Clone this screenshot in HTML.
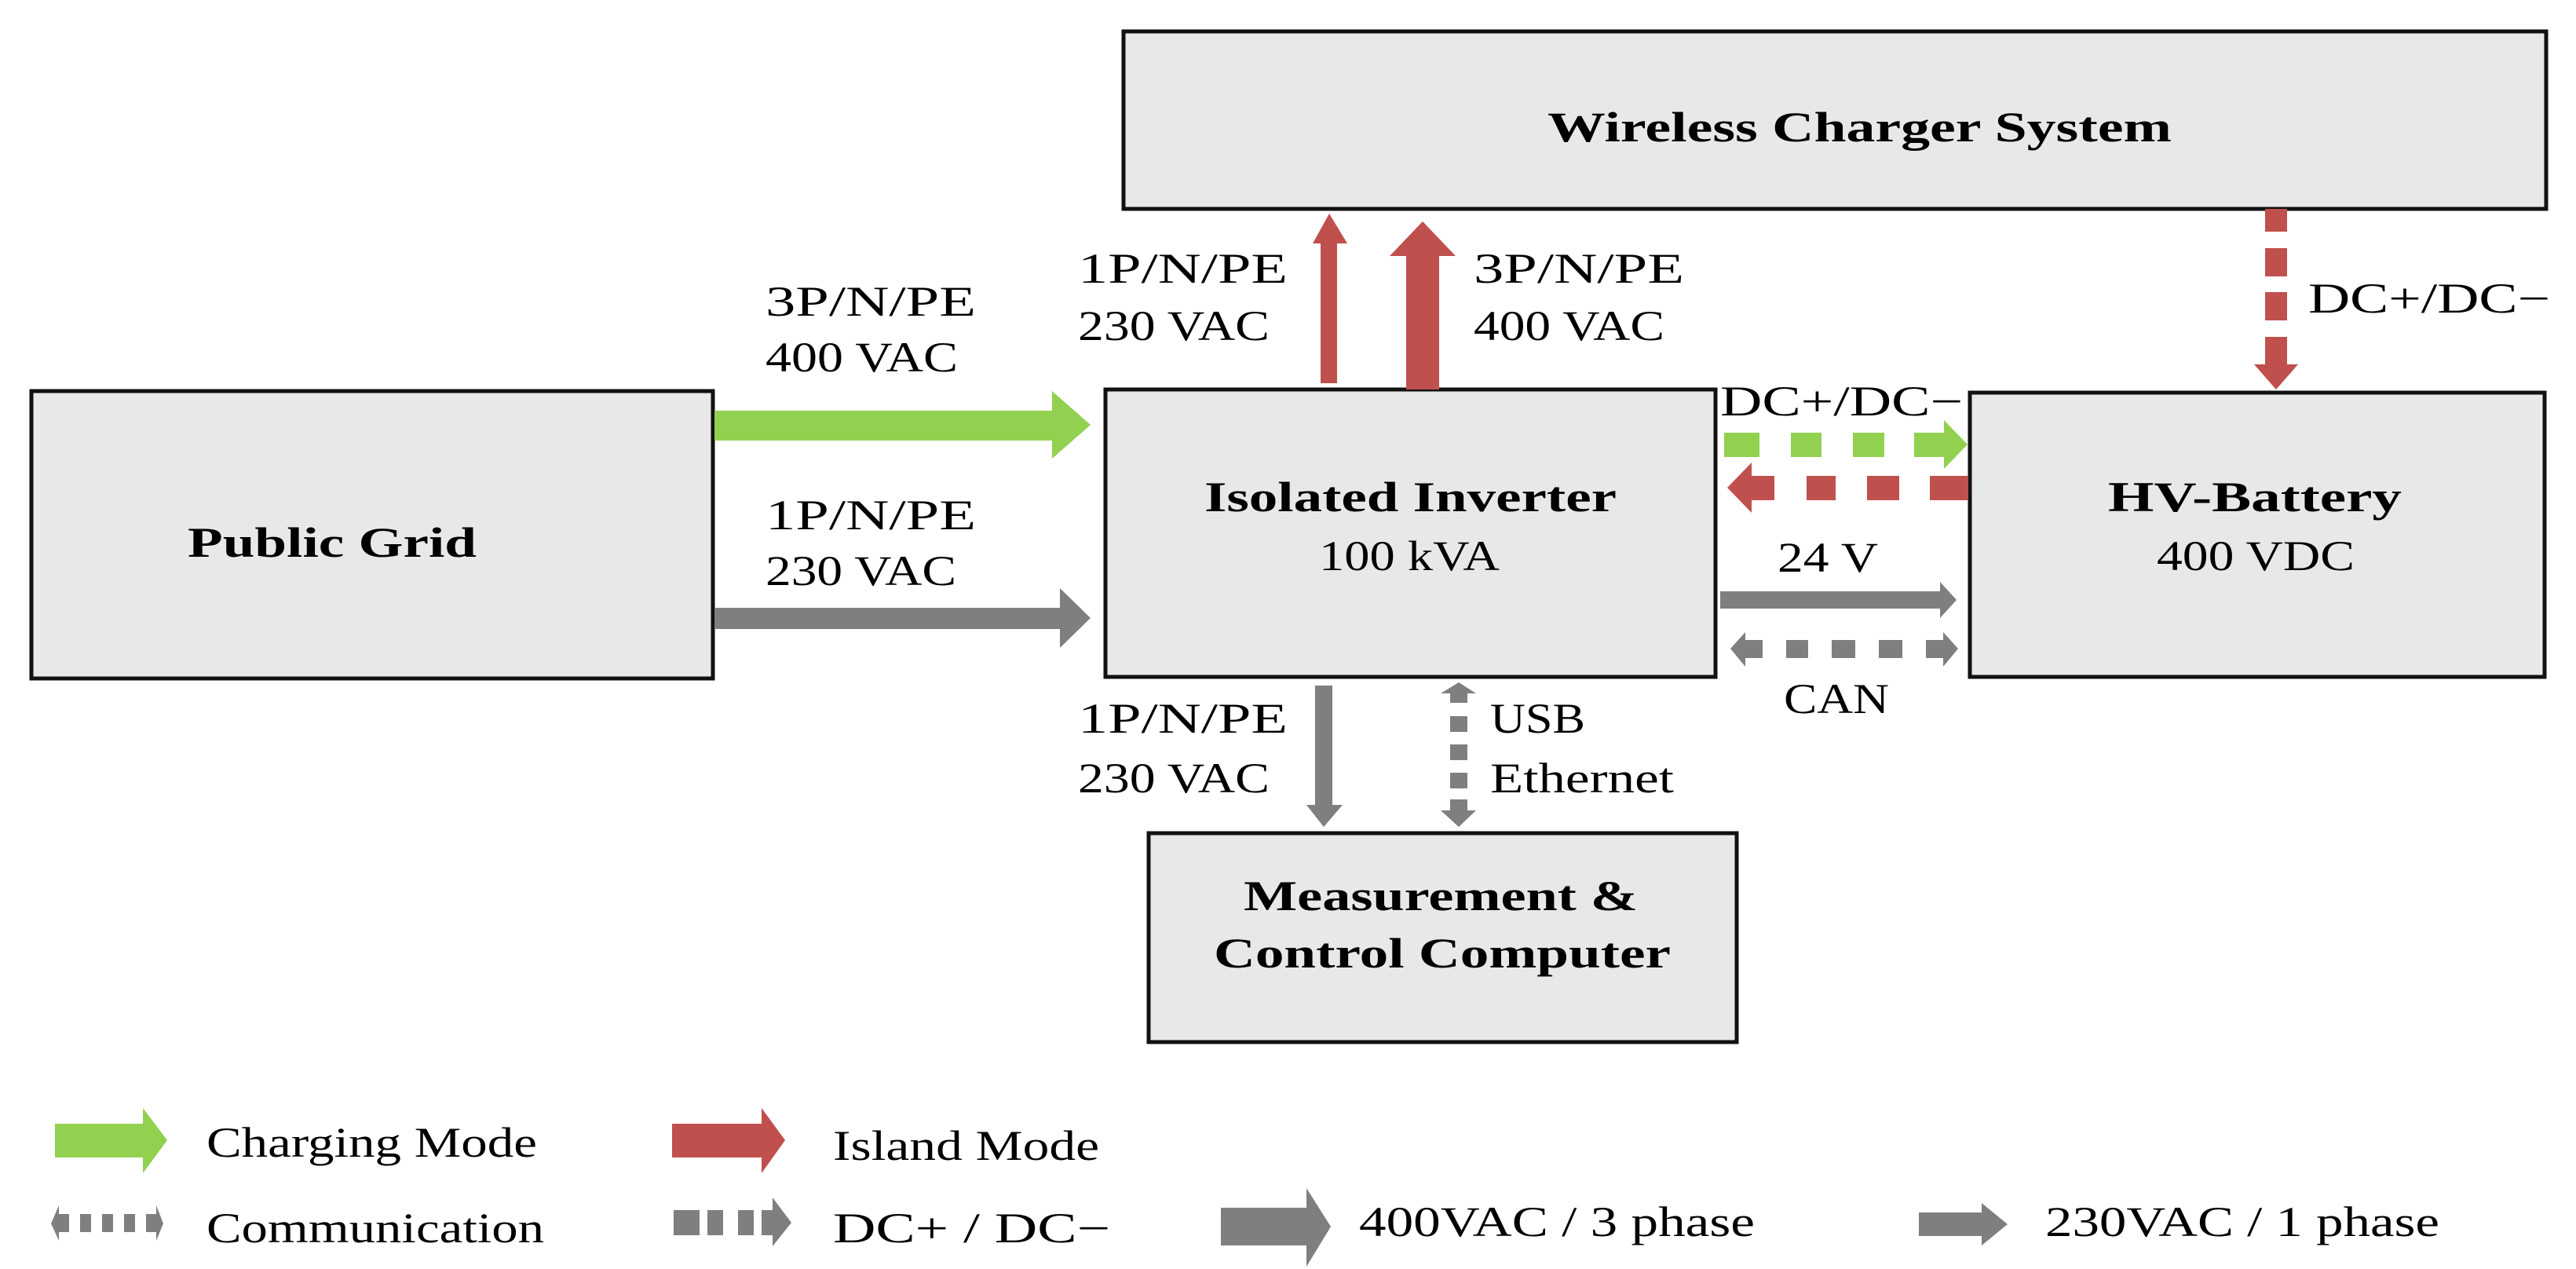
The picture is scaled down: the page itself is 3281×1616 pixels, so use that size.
<!DOCTYPE html>
<html><head><meta charset="utf-8"><style>
html,body{margin:0;padding:0;background:#fff;}
svg{display:block;}
text{font-family:"Liberation Serif",serif;fill:#000;}
.b{font-weight:bold;}
</style></head><body>
<svg width="3281" height="1616" viewBox="0 0 3281 1616" xmlns="http://www.w3.org/2000/svg">
<g fill="#e8e8e8" stroke="#111" stroke-width="5">
<rect x="1431" y="40" width="1812" height="226"/>
<rect x="40" y="498" width="868" height="366"/>
<rect x="1408" y="496" width="777" height="366"/>
<rect x="2509" y="500" width="732" height="362"/>
<rect x="1463" y="1061" width="749" height="266"/>
</g>
<!-- green grid -> inverter -->
<polygon fill="#92d050" points="910,523 1340,523 1340,498 1389,541 1340,584 1340,561 910,561"/>
<!-- gray 230 -->
<polygon fill="#7f7f7f" points="910,774 1350,774 1350,749 1389,787 1350,825 1350,801 910,801"/>
<!-- red thin up -->
<polygon fill="#c0504d" points="1682,488 1682,310 1672,310 1693,272 1716,310 1703,310 1703,488"/>
<!-- red thick up -->
<polygon fill="#c0504d" points="1791,496 1791,326 1770,326 1812,282 1854,326 1833,326 1833,496"/>
<!-- red dashed down -->
<g fill="#c0504d">
<rect x="2885" y="266" width="28" height="29"/>
<rect x="2885" y="316" width="28" height="36"/>
<rect x="2885" y="372" width="28" height="36"/>
<polygon points="2885,429 2913,429 2913,464 2927,464 2899,496 2871,464 2885,464"/>
</g>
<!-- green dashed right -->
<g fill="#92d050">
<rect x="2196" y="551" width="45" height="31"/>
<rect x="2281" y="551" width="39" height="31"/>
<rect x="2360" y="551" width="40" height="31"/>
<polygon points="2438,551 2476,551 2476,535 2506,566 2476,597 2476,582 2438,582"/>
</g>
<!-- red dashed left -->
<g fill="#c0504d">
<polygon points="2260,606 2231,606 2231,589 2200,621 2231,653 2231,637 2260,637"/>
<rect x="2301" y="606" width="37" height="31"/>
<rect x="2378" y="606" width="41" height="31"/>
<rect x="2458" y="606" width="49" height="31"/>
</g>
<!-- gray 24V -->
<polygon fill="#7f7f7f" points="2191,753 2471,753 2471,741 2492,764 2471,787 2471,775 2191,775"/>
<!-- CAN -->
<g fill="#7f7f7f">
<polygon points="2245,815 2223,815 2223,805 2204,826 2223,849 2223,838 2245,838"/>
<rect x="2275" y="815" width="28" height="23"/>
<rect x="2333" y="815" width="30" height="23"/>
<rect x="2393" y="815" width="30" height="23"/>
<polygon points="2453,815 2475,815 2475,805 2494,826 2475,849 2475,838 2453,838"/>
</g>
<!-- gray down -->
<polygon fill="#7f7f7f" points="1675,873 1697,873 1697,1025 1710,1025 1686,1053 1664,1025 1675,1025"/>
<!-- USB dashed vertical -->
<g fill="#7f7f7f">
<polygon points="1847,895 1847,883 1835,883 1858,869 1880,883 1869,883 1869,895"/>
<rect x="1847" y="912" width="22" height="20"/>
<rect x="1847" y="948" width="22" height="20"/>
<rect x="1847" y="984" width="22" height="20"/>
<polygon points="1847,1018 1869,1018 1869,1032 1880,1032 1858,1053 1835,1032 1847,1032"/>
</g>
<!-- legend -->
<polygon fill="#92d050" points="70,1431 182,1431 182,1411 213,1452 182,1494 182,1474 70,1474"/>
<polygon fill="#c0504d" points="856,1431 970,1431 970,1411 1000,1452 970,1494 970,1474 856,1474"/>
<g fill="#7f7f7f">
<polygon points="88,1546 75,1546 75,1535 65,1558 75,1580 75,1569 88,1569"/>
<rect x="102" y="1546" width="14" height="23"/>
<rect x="130" y="1546" width="14" height="23"/>
<rect x="158" y="1546" width="14" height="23"/>
<polygon points="186,1546 199,1546 199,1535 208,1558 199,1580 199,1569 186,1569"/>
<rect x="858" y="1541" width="33" height="32"/>
<rect x="901" y="1541" width="20" height="32"/>
<rect x="940" y="1541" width="20" height="32"/>
<polygon points="970,1541 984,1541 984,1525 1008,1557 984,1587 984,1573 970,1573"/>
<polygon points="1555,1538 1664,1538 1664,1513 1695,1562 1664,1613 1664,1586 1555,1586"/>
<polygon points="2444,1544 2524,1544 2524,1532 2557,1559 2524,1586 2524,1574 2444,1574"/>
</g>
<g font-size="54">
<text class="b" x="1971" y="180" textLength="795" lengthAdjust="spacingAndGlyphs">Wireless Charger System</text>
<text class="b" x="239" y="709" textLength="368" lengthAdjust="spacingAndGlyphs">Public Grid</text>
<text class="b" x="1534" y="651" textLength="525" lengthAdjust="spacingAndGlyphs">Isolated Inverter</text>
<text x="1680" y="726" textLength="230" lengthAdjust="spacingAndGlyphs">100 kVA</text>
<text class="b" x="2685" y="651" textLength="374" lengthAdjust="spacingAndGlyphs">HV-Battery</text>
<text x="2747" y="726" textLength="252" lengthAdjust="spacingAndGlyphs">400 VDC</text>
<text class="b" x="1584" y="1159" textLength="502" lengthAdjust="spacingAndGlyphs">Measurement &amp;</text>
<text class="b" x="1546" y="1232" textLength="582" lengthAdjust="spacingAndGlyphs">Control Computer</text>
<text x="975" y="402" textLength="268" lengthAdjust="spacingAndGlyphs">3P/N/PE</text>
<text x="975" y="473" textLength="245" lengthAdjust="spacingAndGlyphs">400 VAC</text>
<text x="975" y="674" textLength="268" lengthAdjust="spacingAndGlyphs">1P/N/PE</text>
<text x="975" y="745" textLength="243" lengthAdjust="spacingAndGlyphs">230 VAC</text>
<text x="1373" y="360" textLength="267" lengthAdjust="spacingAndGlyphs">1P/N/PE</text>
<text x="1373" y="433" textLength="244" lengthAdjust="spacingAndGlyphs">230 VAC</text>
<text x="1877" y="360" textLength="268" lengthAdjust="spacingAndGlyphs">3P/N/PE</text>
<text x="1877" y="433" textLength="243" lengthAdjust="spacingAndGlyphs">400 VAC</text>
<text x="2940" y="398" textLength="308" lengthAdjust="spacingAndGlyphs">DC+/DC−</text>
<text x="2191" y="529" textLength="309" lengthAdjust="spacingAndGlyphs">DC+/DC−</text>
<text x="2264" y="728" textLength="128" lengthAdjust="spacingAndGlyphs">24 V</text>
<text x="2272" y="908" textLength="134" lengthAdjust="spacingAndGlyphs">CAN</text>
<text x="1373" y="933" textLength="267" lengthAdjust="spacingAndGlyphs">1P/N/PE</text>
<text x="1373" y="1009" textLength="244" lengthAdjust="spacingAndGlyphs">230 VAC</text>
<text x="1898" y="933" textLength="121" lengthAdjust="spacingAndGlyphs">USB</text>
<text x="1898" y="1009" textLength="234" lengthAdjust="spacingAndGlyphs">Ethernet</text>
<text x="263" y="1473" textLength="421" lengthAdjust="spacingAndGlyphs">Charging Mode</text>
<text x="1061" y="1477" textLength="339" lengthAdjust="spacingAndGlyphs">Island Mode</text>
<text x="263" y="1582" textLength="430" lengthAdjust="spacingAndGlyphs">Communication</text>
<text x="1061" y="1582" textLength="353" lengthAdjust="spacingAndGlyphs">DC+ / DC−</text>
<text x="1731" y="1574" textLength="504" lengthAdjust="spacingAndGlyphs">400VAC / 3 phase</text>
<text x="2605" y="1574" textLength="502" lengthAdjust="spacingAndGlyphs">230VAC / 1 phase</text>
</g>
</svg>
</body></html>
